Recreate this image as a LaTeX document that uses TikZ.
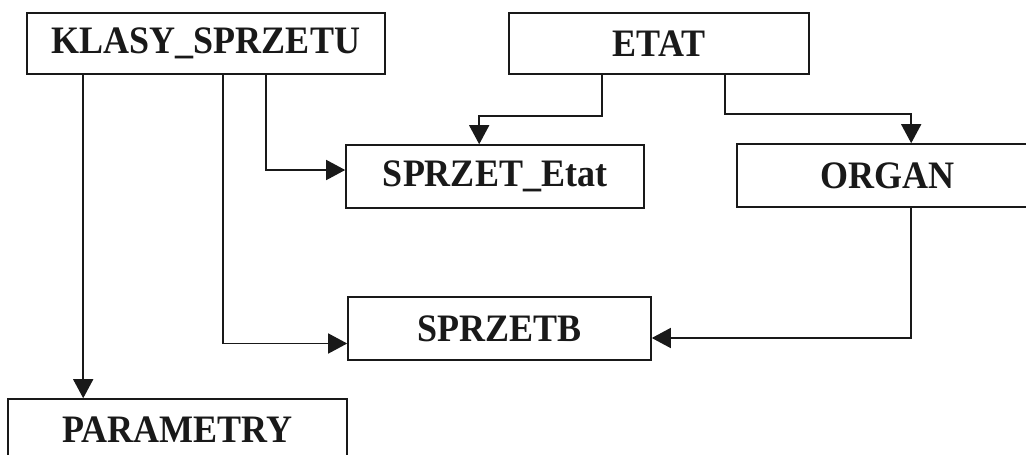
\documentclass[tikz,border=0pt]{standalone}
\usepackage{fontspec}
\usepackage{graphicx}
\setmainfont{Liberation Serif}
\usetikzlibrary{arrows.meta}
\begin{document}
\begin{tikzpicture}[x=1pt,y=-1pt,
  box/.style={draw=black!90,line width=1.6pt,inner sep=0pt,
    font=\fontsize{36}{40}\selectfont\bfseries,text=black!90},
  conn/.style={draw=black!90,line width=1.5pt},
  arr/.style={conn,-{Triangle[length=19pt,width=20pt]}}]
\useasboundingbox (0,0) rectangle (1026,455);
\clip (0,0) rectangle (1026,455);
\fill[white] (0,0) rectangle (1026,455);
\node[box,minimum width=358pt,minimum height=61pt] (KL) at (206,43.5) {\scalebox{1}[1.08]{KLASY\_SPRZETU}};
\node[box,minimum width=300pt,minimum height=61pt] (ET) at (659,43.5) {\scalebox{1}[1.08]{ETAT}};
\node[box,minimum width=298pt,minimum height=63pt] (SE) at (495,176.5) {\scalebox{1}[1.08]{SPRZET\_Etat}};
\node[box,minimum width=300pt,minimum height=63pt] (OR) at (887,175.5) {\scalebox{1}[1.08]{ORGAN}};
\node[box,minimum width=303pt,minimum height=63pt] (SB) at (499.5,328.5) {\scalebox{1}[1.08]{SPRZETB}};
\node[box,minimum width=339pt,minimum height=62pt] (PA) at (177.5,430) {\scalebox{1}[1.08]{PARAMETRY}};
% KLASY -> PARAMETRY
\draw[arr] ([xshift=57pt]KL.south west) -- ([xshift=57pt]KL.south west |- PA.north);
% KLASY -> SPRZETB
\draw[arr] ([xshift=197pt]KL.south west) |- ([yshift=-15pt]SB.west);
% KLASY -> SPRZET_Etat
\draw[arr] ([xshift=240pt]KL.south west) |- ([yshift=6.5pt]SE.west);
% ETAT -> SPRZET_Etat
\draw[arr] ([xshift=94pt]ET.south west) -- ++(0,41) -| ([xshift=134pt]SE.north west);
% ETAT -> ORGAN
\draw[arr] ([xshift=217pt]ET.south west) -- ++(0,39) -| ([xshift=175pt]OR.north west);
% ORGAN -> SPRZETB
\draw[arr] ([xshift=175pt]OR.south west) |- ([yshift=-9.5pt]SB.east);
\end{tikzpicture}
\end{document}
